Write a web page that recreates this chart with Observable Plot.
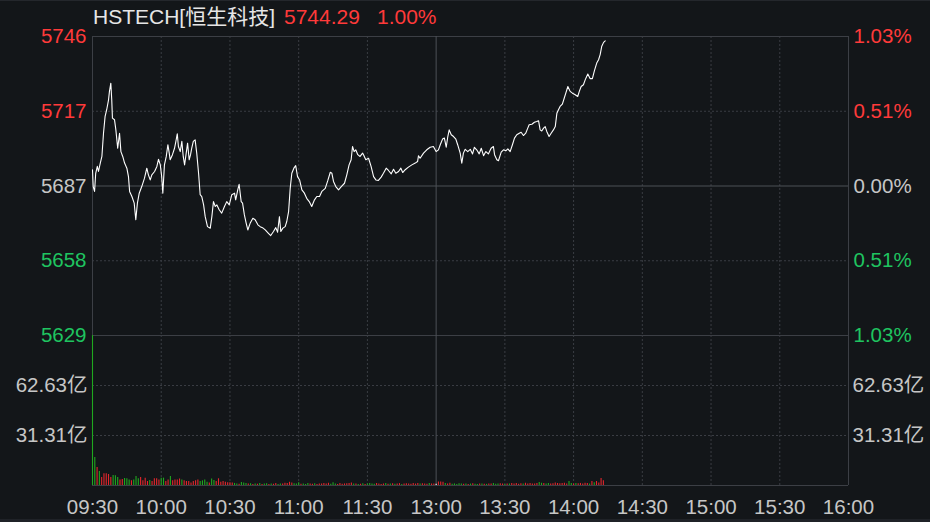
<!DOCTYPE html>
<html><head><meta charset="utf-8">
<script src="https://cdn.jsdelivr.net/npm/d3@7"></script>
<script src="https://cdn.jsdelivr.net/npm/@observablehq/plot@0.6"></script>
<style>
html,body{margin:0;padding:0;background:#131619;}
#wrap{position:relative;width:930px;height:522px;overflow:hidden;background:#131619;font-family:"Liberation Sans","Noto Sans CJK SC",sans-serif;border-top:1px solid #24272c;box-sizing:border-box;}
#wrap svg{position:absolute;left:0;overflow:visible;}
#foot{position:absolute;left:0;top:518px;width:930px;height:4px;background:#1f2227;}
.t{position:absolute;top:4px;font-size:21px;line-height:24px;white-space:nowrap;}
</style></head><body><div id="wrap"><div id="foot"></div></div>
<script>
// ---- data ----
const indexName = "HSTECH[恒生科技]";
const lastPrice = "5744.29";
const lastPct = "1.00%";
const prevClose = 5687.42;
const levelPct = [1.03, 0.515, 0, -0.515, -1.03];
const priceTickLabels = ["5746", "5717", "5687", "5658", "5629"];
const pctTickLabels = ["1.03%", "0.51%", "0.00%", "0.51%", "1.03%"];
const volTicks = [62.63, 31.31];
const volTickLabels = ["62.63亿", "31.31亿"];
const volMax = 93.94;
const timeTicks = [0, 30, 60, 90, 120, 150, 180, 210, 240, 270, 300, 330];
const timeLabels = ["09:30", "10:00", "10:30", "11:00", "11:30", "13:00", "13:30", "14:00", "14:30", "15:00", "15:30", "16:00"];

// trading minutes since 09:30 (lunch break removed)
const lineMinute = [
0,0.3,0.9,1.4,2.1,2.6,3.4,4.1,4.8,5.5,
6.2,7.0,7.4,8.0,8.4,8.7,9.6,10.2,11.0,11.8,
12.4,13.2,14.0,15.0,15.7,16.2,17.2,18.2,18.9,19.6,
20.4,21.5,22.7,23.7,24.4,25.2,25.9,27.1,28.1,28.8,
29.6,30.2,30.7,31.4,32.2,32.9,33.5,33.9,34.9,35.8,
36.4,37.0,37.5,38.3,39.0,39.6,40.2,40.9,41.5,42.2,
42.8,43.3,44.0,44.8,45.5,46.3,47.0,47.7,48.5,49.2,
50.2,51.4,52.1,52.8,53.6,54.3,55.3,56.4,
57.6,58.6,59.7,60.8,62.0,62.5,63.4,64.0,64.9,65.5,
66.3,67.1,67.8,68.8,70.0,71.0,72.2,73.2,74.2,75.4,
76.8,77.8,79.0,80.0,80.8,81.6,82.2,83.1,84.1,84.8,
85.6,86.3,87.0,87.9,88.7,89.5,90.4,91.4,92.5,93.5,
94.6,95.7,96.9,97.9,99.1,100.1,101.6,102.7,103.8,104.5,
105.2,106.2,107.4,108.6,110.0,111.0,112.0,112.9,113.5,114.2,
114.9,115.8,116.8,117.9,
118.3,119.3,120.5,121.6,122.7,123.7,124.8,126.0,127.0,128.2,
129.2,130.4,131.4,132.4,133.6,134.6,135.4,136.5,137.9,139.4,
140.9,141.9,142.3,143.0,144.5,145.9,147.4,148.8,150.0,151.0,
151.8,152.8,153.6,154.4,155.1,155.7,156.6,157.6,158.6,159.4,
160.5,161.2,161.9,162.7,163.8,164.9,165.9,166.7,167.7,168.8,
169.7,170.7,171.7,172.8,174.0,175.0,
175.5,176.5,177.2,178.4,179.4,180.4,181.3,182.3,183.3,184.2,
185.2,186.3,187.1,188.1,189.1,190.0,190.6,191.8,192.9,193.9,
194.7,195.4,196.1,196.9,197.6,198.3,199.3,200.2,201.2,202.0,
202.7,203.4,204.1,205.1,205.9,206.6,207.5,208.5,209.5,210.7,
211.8,212.5,213.3,214.3,215.1,216.2,217.2,218.2,219.1,220.1,
220.9,221.6,222.3,223.1,223.8
];
const linePrice = [
5693.8,5687.2,5685.3,5692.4,5695.1,5693.1,5696.4,5699.0,5708.1,5714.7,
5717.3,5721.2,5724.5,5727.7,5721.2,5714.0,5713.4,5709.4,5702.2,5708.1,
5700.9,5699.0,5696.4,5694.4,5691.1,5685.3,5683.3,5680.7,5674.2,5680.7,
5684.6,5687.2,5690.5,5694.4,5691.8,5689.8,5691.8,5693.1,5695.1,5697.9,
5695.7,5691.1,5684.6,5695.7,5699.0,5703.6,5700.3,5697.7,5699.7,5702.2,
5704.9,5707.9,5702.9,5700.9,5704.9,5699.0,5695.7,5700.3,5704.2,5697.7,
5699.7,5702.2,5704.9,5705.5,5700.3,5692.4,5684.0,5683.3,5680.0,5675.4,
5671.5,5670.9,5675.4,5681.3,5679.4,5680.0,5678.1,5676.8,
5679.4,5681.3,5680.0,5684.0,5684.6,5682.0,5685.9,5688.1,5681.3,5680.7,
5676.1,5672.8,5670.2,5672.8,5674.8,5674.2,5672.2,5671.5,5671.1,5670.2,
5668.9,5668.0,5669.6,5671.1,5669.3,5675.4,5669.6,5670.9,5671.5,5673.5,
5677.4,5686.5,5692.4,5694.4,5695.4,5691.1,5689.8,5685.9,5684.6,5682.6,
5681.3,5679.4,5682.0,5683.3,5683.3,5685.3,5686.5,5689.5,5692.8,5692.4,
5689.2,5687.2,5685.9,5687.2,5688.5,5691.8,5695.7,5697.7,5702.9,5700.9,
5701.6,5699.7,5699.0,5700.3,
5699.7,5697.7,5698.3,5695.1,5691.1,5689.8,5689.6,5690.9,5692.4,5694.4,
5693.5,5692.2,5694.0,5692.4,5693.1,5694.4,5692.7,5693.8,5694.8,5695.7,
5696.4,5697.0,5699.3,5698.3,5700.3,5701.6,5702.6,5702.9,5700.9,5701.6,
5703.6,5705.8,5706.2,5702.6,5706.8,5709.4,5707.5,5706.8,5705.8,5703.6,
5700.3,5696.4,5700.3,5701.8,5700.9,5701.8,5700.0,5702.6,5701.6,5700.0,
5702.2,5699.3,5700.9,5700.0,5702.2,5702.9,
5699.7,5697.7,5697.3,5700.7,5701.6,5701.2,5702.0,5700.9,5703.6,5706.2,
5707.5,5708.1,5708.5,5707.2,5708.1,5710.1,5711.4,5711.6,5712.4,5712.7,
5713.0,5709.4,5709.0,5710.1,5710.7,5708.8,5706.8,5708.1,5709.4,5710.7,
5715.9,5717.3,5718.6,5719.5,5721.8,5723.8,5726.4,5724.5,5723.8,5723.2,
5722.5,5724.5,5726.4,5727.1,5729.1,5731.3,5729.5,5729.5,5732.6,5735.6,
5736.9,5738.9,5742.2,5743.7,5744.29
];

// per-minute turnover (亿), minute 0..223
const volume = [
93.9,17.5,11.3,8.8,5.0,7.3,7.3,6.9,5.0,6.3,
6.1,5.0,3.5,3.8,4.4,4.2,3.5,2.9,3.5,5.6,
4.2,5.0,2.9,4.6,2.5,3.1,2.5,4.2,4.2,3.5,
4.6,4.6,2.5,3.5,5.6,2.9,3.5,3.5,4.0,3.5,
2.9,2.5,2.5,1.5,2.5,2.9,3.5,2.5,2.9,3.5,
2.1,1.5,4.0,3.1,2.5,4.2,2.1,2.5,2.1,1.7,
1.7,1.5,
1.3,1.0,0.8,1.9,1.6,1.2,0.9,1.1,0.7,1.0,
0.8,1.2,0.6,0.9,1.1,0.7,1.0,0.8,1.3,0.6,
0.9,1.0,1.4,1.2,2.0,1.5,1.1,0.9,1.7,0.8,
1.0,0.7,1.2,0.9,0.8,1.1,0.6,1.0,0.9,1.3,
1.0,1.4,0.8,1.8,0.9,0.7,1.2,0.8,1.0,1.1,
1.3,1.5,0.9,1.0,0.7,0.8,1.1,0.6,0.9,1.2,
1.0,0.8,1.3,0.9,0.7,1.0,1.2,0.8,0.9,1.1,
0.8,1.0,1.2,0.7,0.9,1.1,1.0,0.8,1.2,0.9,
1.3,0.9,1.1,1.0,0.8,1.2,1.0,0.9,0.8,2.2,
2.2,2.0,1.2,0.9,1.4,0.8,1.0,0.7,1.1,0.9,
0.8,1.0,0.7,0.9,1.1,0.8,0.6,1.0,0.9,0.8,
0.7,1.0,0.9,1.2,0.8,1.0,1.1,0.9,0.7,1.0,
0.9,1.2,1.0,1.3,0.8,1.1,0.9,1.4,1.0,1.2,
1.0,0.9,1.2,1.9,1.4,1.2,0.9,1.3,1.0,1.1,
1.5,1.3,1.1,1.2,1.4,1.0,2.5,1.2,0.9,1.3,
1.1,1.3,1.0,1.4,1.2,0.9,2.5,1.8,2.5,1.6,
4.4,2.9
];
// r = up minute, g = down minute, w = flat
const volDir = (
"ggrgrrrrrg"+"ggrrgggrgg"+"grrrrgrrrr"+"ggrrgrrrrg"+"rrrrrrrggg"+"grggrrrrrr"+"rr"+
"ggrgggrgrg"+"rgrggrgrrg"+"grrrrrgggr"+"gggrrgrrrr"+"rrgggrrrrr"+"rrgrgrgrgg"+
"ggrrrrgrgr"+"grrgrrrrrr"+"rgrrrgrrwr"+"rrgrrggggg"+"rgrgrggrgr"+"grrgggrrgr"+
"grrrrrgrrr"+"rrrggrggrr"+"rrrrrrggrg"+"rrrrrgrgrr"+"rr").split("");

// ---- styling ----
const BG = "#131619", RED = "#ff3a3a", GREEN = "#1fc460", GRAY = "#c6c6c6";
const BAR = {r: "#e3262c", g: "#1fa81f", w: "#ffffff"};
const SOLID = "#3c3f45", ZERO = "#4d5056", DOT = "#3a3d43";
const levelColor = [RED, RED, GRAY, GREEN, GREEN];
const FONT = '"Liberation Sans","Noto Sans CJK SC",sans-serif';
const FS = 20.5;

const levels = levelPct.map(p => prevClose * (1 + p / 100));
const dotTimes = timeTicks.filter(t => t !== 0 && t !== 150 && t !== 330);
const nLine = Math.min(lineMinute.length, linePrice.length);
const lineIdx = d3.range(nLine);
const volIdx = d3.range(Math.min(volume.length, volDir.length));
const lvlIdx = d3.range(levels.length);

const wrap = document.getElementById("wrap");

// title
[[indexName, 93, "#e6e6e6"], [lastPrice, 284, RED], [lastPct, 377, RED]].forEach(([txt, x, c]) => {
  const s = document.createElement("div");
  s.className = "t"; s.textContent = txt; s.style.left = x + "px"; s.style.color = c;
  wrap.appendChild(s);
});

const common = {
  width: 930,
  marginLeft: 92, marginRight: 82,
  x: {domain: [0, 330], axis: null},
  style: {background: "transparent", color: GRAY, fontFamily: FONT, fontSize: FS + "px", overflow: "visible"}
};

const pricePlot = Plot.plot({
  ...common,
  height: 335, marginTop: 35, marginBottom: 1,
  y: {domain: [levels[4], levels[0]], axis: null},
  marks: [
    Plot.ruleX(dotTimes, {stroke: DOT, strokeDasharray: "2,2"}),
    Plot.ruleY([levels[1], levels[3]], {stroke: DOT, strokeDasharray: "2,2"}),
    Plot.ruleY([levels[0], levels[4]], {stroke: SOLID}),
    Plot.ruleY([levels[2]], {stroke: ZERO}),
    Plot.ruleX([0, 330], {stroke: SOLID}),
    Plot.ruleX([150], {stroke: ZERO}),
    Plot.line(lineIdx, {x: i => lineMinute[i], y: i => linePrice[i], stroke: "#ffffff", strokeWidth: 1.1}),
    Plot.text(lvlIdx, {y: i => levels[i], text: i => priceTickLabels[i], frameAnchor: "left", textAnchor: "end", dx: -6, fill: i => levelColor[i], fontSize: FS}),
    Plot.text(lvlIdx, {y: i => levels[i], text: i => pctTickLabels[i], frameAnchor: "right", textAnchor: "start", dx: 5, fill: i => levelColor[i], fontSize: FS})
  ]
});
pricePlot.style.top = "0px";
wrap.appendChild(pricePlot);

const volPlot = Plot.plot({
  ...common,
  height: 188, marginTop: 0, marginBottom: 38,
  y: {domain: [0, volMax], axis: null},
  marks: [
    Plot.ruleX(dotTimes, {stroke: DOT, strokeDasharray: "2,2"}),
    Plot.ruleY(volTicks, {stroke: DOT, strokeDasharray: "2,2"}),
    Plot.ruleY([0], {stroke: SOLID}),
    Plot.ruleX([0, 330], {stroke: SOLID}),
    Plot.ruleX([150], {stroke: ZERO}),
    Plot.ruleX(volIdx, {x: i => i, y1: 0, y2: i => volume[i], stroke: i => BAR[volDir[i]], strokeWidth: 1.1}),
    Plot.text(volTicks, {y: d => d, text: (d, i) => volTickLabels[i], frameAnchor: "left", textAnchor: "end", dx: -5, fill: GRAY, fontSize: FS}),
    Plot.text(volTicks, {y: d => d, text: (d, i) => volTickLabels[i], frameAnchor: "right", textAnchor: "start", dx: 4, fill: GRAY, fontSize: FS}),
    Plot.axisX(timeTicks, {tickFormat: d => timeLabels[timeTicks.indexOf(d)], tickSize: 0, tickPadding: 14, fontSize: FS, fill: GRAY})
  ]
});
volPlot.style.top = "334px";
wrap.appendChild(volPlot);
</script>
</body></html>
